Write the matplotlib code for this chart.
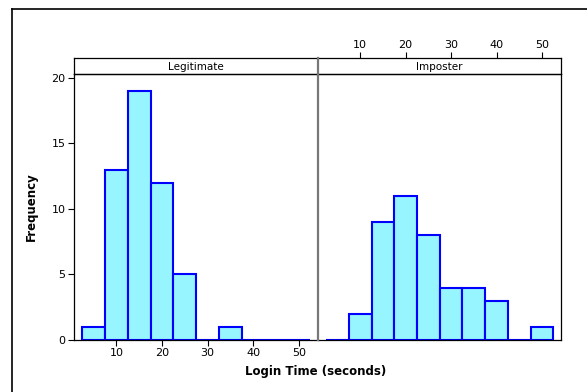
import numpy as np
import matplotlib
matplotlib.use("Agg")
import matplotlib.pyplot as plt
from matplotlib.lines import Line2D

bin_centers = [5, 10, 15, 20, 25, 30, 35, 40, 45, 50]
panels = ["Legitimate", "Imposter"]
legit_counts = [1, 13, 19, 12, 5, 0, 1, 0, 0, 0]
imposter_counts = [0, 2, 9, 11, 8, 4, 4, 3, 0, 1]
x_ticks = [10, 20, 30, 40, 50]
y_ticks = [0, 5, 10, 15, 20]

W, H = 587, 392
fig = plt.figure(figsize=(W / 100, H / 100), dpi=100)
plt.rcParams["font.family"] = "DejaVu Sans"


def px(x0, y0, x1, y1):
    return [x0 / W, 1 - y1 / H, (x1 - x0) / W, (y1 - y0) / H]


# outer frame (only left and top edges visible)
fig.add_artist(Line2D([12 / W, 12 / W], [0, 1 - 9 / H], transform=fig.transFigure,
                      color="black", lw=1.2))
fig.add_artist(Line2D([12 / W, 1], [1 - 9 / H, 1 - 9 / H], transform=fig.transFigure,
                      color="black", lw=1.2))

edges = [(74, 318), (318, 561)]
for i, (name, counts) in enumerate(zip(panels, [legit_counts, imposter_counts])):
    x0, x1 = edges[i]
    ax = fig.add_axes(px(x0, 74, x1, 340))
    ax.patch.set_alpha(0)
    ax.bar(bin_centers, counts, width=5, color="#96f5ff", edgecolor="#0000ff", lw=1.5)
    ax.set_xlim(0.7, 54.2)
    ax.set_ylim(0, 20.3)
    for s in ax.spines.values():
        s.set_linewidth(0.9)
    ax.tick_params(direction="out", length=4, width=0.8, labelsize=8, pad=2)
    if i == 0:
        ax.set_xticks(x_ticks)
        ax.set_yticks(y_ticks)
        ax.spines["right"].set_visible(False)
        ax.set_ylabel("Frequency", fontsize=8.5, fontweight="bold")
        ax.yaxis.set_label_coords((38 - 74) / (x1 - x0), 0.5)
    else:
        ax.set_yticks([])
        ax.set_xticks([])
        ax.spines["left"].set_visible(False)
    # strip
    sx = fig.add_axes(px(x0, 58, x1, 74))
    sx.patch.set_alpha(0)
    sx.set_xlim(0.7, 54.2)
    sx.set_yticks([])
    sx.text(0.5, 0.45, name, transform=sx.transAxes, ha="center", va="center", fontsize=7.5)
    for s in sx.spines.values():
        s.set_linewidth(0.9)
    if i == 0:
        sx.set_xticks([])
        sx.spines["right"].set_visible(False)
    else:
        sx.spines["left"].set_visible(False)
        sx.set_xticks(x_ticks)
        sx.xaxis.tick_top()
        sx.tick_params(direction="out", length=4, width=0.8, labelsize=8, pad=2)

# grey divider between the two panels
fig.add_artist(Line2D([318 / W, 318 / W], [1 - 340 / H, 1 - 58 / H], transform=fig.transFigure,
                      color="#777777", lw=1.6))

fig.text(316 / W, 1 - 371 / H, "Login Time (seconds)", ha="center", va="center",
         fontsize=8.5, fontweight="bold")

fig.savefig("out.png", dpi=100)
